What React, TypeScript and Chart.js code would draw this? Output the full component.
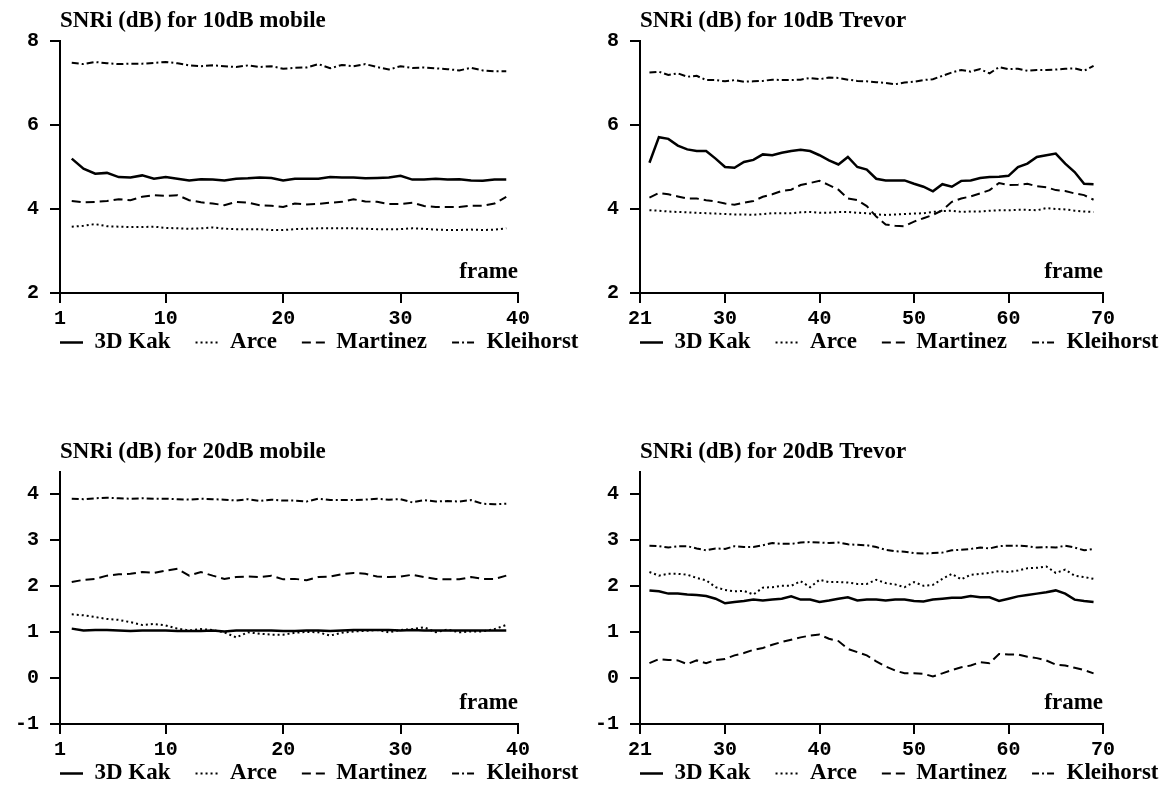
import React, { useEffect, useRef } from "react";
import { Chart, registerables } from "chart.js";

Chart.register(...registerables);

// ---------- data ----------
const seriesNames = ["3D Kak", "Arce", "Martinez", "Kleihorst"];

const mobileFrames = [2, 3, 4, 5, 6, 7, 8, 9, 10, 11, 12, 13, 14, 15, 16, 17, 18, 19, 20, 21, 22, 23, 24, 25, 26, 27, 28, 29, 30, 31, 32, 33, 34, 35, 36, 37, 38, 39];
const trevorFrames = [22, 23, 24, 25, 26, 27, 28, 29, 30, 31, 32, 33, 34, 35, 36, 37, 38, 39, 40, 41, 42, 43, 44, 45, 46, 47, 48, 49, 50, 51, 52, 53, 54, 55, 56, 57, 58, 59, 60, 61, 62, 63, 64, 65, 66, 67, 68, 69];

const mobileXTicks = [1, 10, 20, 30, 40];
const trevorXTicks = [21, 30, 40, 50, 60, 70];
const yTicks10dB = [2, 4, 6, 8];
const yTicks20dB = [-1, 0, 1, 2, 3, 4];

// 10dB mobile
const mobile10Kak = [5.2, 4.96, 4.84, 4.86, 4.76, 4.75, 4.8, 4.72, 4.76, 4.72, 4.68, 4.71, 4.7, 4.68, 4.72, 4.73, 4.75, 4.74, 4.68, 4.72, 4.72, 4.72, 4.76, 4.75, 4.75, 4.73, 4.74, 4.75, 4.79, 4.7, 4.7, 4.72, 4.7, 4.71, 4.68, 4.67, 4.7, 4.7];
const mobile10Arce = [3.58, 3.6, 3.64, 3.59, 3.58, 3.57, 3.57, 3.58, 3.55, 3.54, 3.53, 3.54, 3.56, 3.53, 3.52, 3.52, 3.52, 3.5, 3.5, 3.52, 3.53, 3.54, 3.54, 3.54, 3.54, 3.53, 3.52, 3.52, 3.52, 3.54, 3.53, 3.51, 3.5, 3.5, 3.51, 3.5, 3.51, 3.54];
const mobile10Martinez = [4.19, 4.16, 4.17, 4.19, 4.23, 4.21, 4.29, 4.33, 4.31, 4.33, 4.21, 4.16, 4.13, 4.09, 4.17, 4.15, 4.09, 4.08, 4.05, 4.13, 4.11, 4.12, 4.15, 4.17, 4.23, 4.18, 4.17, 4.12, 4.12, 4.15, 4.07, 4.05, 4.05, 4.05, 4.08, 4.08, 4.13, 4.29];
const mobile10Kleihorst = [7.48, 7.45, 7.5, 7.47, 7.45, 7.46, 7.46, 7.48, 7.5, 7.47, 7.42, 7.4, 7.42, 7.4, 7.38, 7.42, 7.38, 7.4, 7.34, 7.36, 7.37, 7.45, 7.35, 7.43, 7.4, 7.45, 7.38, 7.32, 7.4, 7.36, 7.37, 7.35, 7.33, 7.3, 7.36, 7.3, 7.28, 7.28];

// 10dB Trevor
const trevor10Kak = [5.1, 5.71, 5.67, 5.51, 5.42, 5.38, 5.38, 5.2, 5.0, 4.98, 5.12, 5.17, 5.3, 5.28, 5.34, 5.38, 5.41, 5.38, 5.28, 5.16, 5.06, 5.24, 5.0, 4.94, 4.72, 4.68, 4.68, 4.68, 4.6, 4.53, 4.42, 4.59, 4.53, 4.67, 4.68, 4.74, 4.76, 4.77, 4.79, 5.0, 5.08, 5.24, 5.28, 5.32, 5.08, 4.88, 4.6, 4.59];
const trevor10Arce = [3.97, 3.96, 3.94, 3.93, 3.92, 3.91, 3.9, 3.89, 3.88, 3.87, 3.87, 3.86, 3.88, 3.9, 3.9, 3.9, 3.92, 3.93, 3.91, 3.91, 3.93, 3.93, 3.91, 3.9, 3.87, 3.86, 3.87, 3.88, 3.89, 3.9, 3.93, 3.95, 3.96, 3.93, 3.94, 3.94, 3.96, 3.97, 3.97, 3.98, 3.98, 3.97, 4.02, 4.0, 3.99, 3.96, 3.94, 3.93];
const trevor10Martinez = [4.27, 4.38, 4.35, 4.3, 4.25, 4.25, 4.21, 4.18, 4.13, 4.1, 4.15, 4.19, 4.29, 4.35, 4.43, 4.46, 4.57, 4.62, 4.67, 4.57, 4.46, 4.25, 4.21, 4.07, 3.82, 3.63, 3.6, 3.59, 3.7, 3.78, 3.86, 3.97, 4.17, 4.25, 4.3, 4.37, 4.45, 4.62, 4.57, 4.58, 4.6, 4.54, 4.52, 4.45, 4.43, 4.37, 4.33, 4.22];
const trevor10Kleihorst = [7.25, 7.27, 7.19, 7.23, 7.15, 7.17, 7.07, 7.07, 7.04, 7.07, 7.03, 7.04, 7.05, 7.08, 7.07, 7.07, 7.08, 7.12, 7.09, 7.13, 7.12, 7.08, 7.05, 7.04, 7.02, 7.0, 6.97, 7.01, 7.03, 7.07, 7.09, 7.17, 7.25, 7.31, 7.27, 7.33, 7.23, 7.38, 7.33, 7.34, 7.29, 7.31, 7.31, 7.32, 7.34, 7.35, 7.29, 7.41];

// 20dB mobile
const mobile20Kak = [1.07, 1.03, 1.04, 1.04, 1.03, 1.02, 1.03, 1.03, 1.03, 1.02, 1.02, 1.02, 1.03, 1.01, 1.03, 1.03, 1.03, 1.03, 1.02, 1.02, 1.03, 1.03, 1.02, 1.03, 1.04, 1.04, 1.04, 1.04, 1.03, 1.04, 1.03, 1.03, 1.03, 1.03, 1.03, 1.03, 1.03, 1.03];
const mobile20Arce = [1.38, 1.36, 1.32, 1.28, 1.26, 1.21, 1.15, 1.17, 1.14, 1.07, 1.03, 1.06, 1.04, 0.99, 0.88, 0.99, 0.96, 0.94, 0.94, 0.98, 1.0, 0.99, 0.92, 0.98, 1.01, 1.02, 1.04, 0.99, 1.04, 1.06, 1.1, 0.99, 1.05, 0.99, 1.01, 1.01, 1.06, 1.15];
const mobile20Martinez = [2.08, 2.13, 2.15, 2.22, 2.25, 2.26, 2.3, 2.28, 2.33, 2.37, 2.22, 2.3, 2.22, 2.15, 2.19, 2.2, 2.19, 2.22, 2.14, 2.15, 2.12, 2.19, 2.2, 2.25, 2.28, 2.26, 2.2, 2.19, 2.2, 2.24, 2.19, 2.15, 2.14, 2.14, 2.19, 2.15, 2.15, 2.22];
const mobile20Kleihorst = [3.89, 3.88, 3.9, 3.91, 3.9, 3.89, 3.9, 3.89, 3.89, 3.88, 3.87, 3.89, 3.88, 3.87, 3.85, 3.88, 3.84, 3.87, 3.85, 3.85, 3.83, 3.89, 3.86, 3.86, 3.86, 3.87, 3.89, 3.87, 3.88, 3.81, 3.86, 3.83, 3.84, 3.83, 3.86, 3.78, 3.77, 3.78];

// 20dB Trevor
const trevor20Kak = [1.9, 1.88, 1.83, 1.83, 1.81, 1.8, 1.78, 1.72, 1.62, 1.65, 1.67, 1.7, 1.68, 1.7, 1.72, 1.77, 1.7, 1.7, 1.65, 1.68, 1.72, 1.75, 1.68, 1.7, 1.7, 1.68, 1.7, 1.7, 1.67, 1.66, 1.7, 1.72, 1.74, 1.74, 1.78, 1.75, 1.75, 1.67, 1.72, 1.77, 1.8, 1.83, 1.86, 1.9, 1.83, 1.7, 1.67, 1.65];
const trevor20Arce = [2.3, 2.22, 2.26, 2.26, 2.24, 2.17, 2.12, 1.97, 1.91, 1.88, 1.89, 1.81, 1.96, 1.97, 2.0, 2.0, 2.1, 1.97, 2.13, 2.08, 2.08, 2.07, 2.04, 2.04, 2.13, 2.06, 2.03, 1.97, 2.08, 2.0, 2.02, 2.15, 2.26, 2.14, 2.24, 2.26, 2.28, 2.32, 2.3, 2.33, 2.38, 2.39, 2.42, 2.28, 2.35, 2.22, 2.19, 2.15];
const trevor20Martinez = [0.32, 0.41, 0.39, 0.38, 0.3, 0.38, 0.32, 0.39, 0.41, 0.49, 0.54, 0.61, 0.65, 0.72, 0.78, 0.83, 0.88, 0.92, 0.94, 0.85, 0.8, 0.63, 0.56, 0.49, 0.36, 0.25, 0.16, 0.1, 0.1, 0.09, 0.03, 0.1, 0.17, 0.23, 0.27, 0.34, 0.32, 0.52, 0.51, 0.51, 0.46, 0.43, 0.38, 0.29, 0.27, 0.22, 0.17, 0.1];
const trevor20Kleihorst = [2.87, 2.86, 2.83, 2.86, 2.86, 2.81, 2.77, 2.81, 2.8, 2.86, 2.84, 2.84, 2.88, 2.93, 2.91, 2.91, 2.94, 2.95, 2.94, 2.93, 2.94, 2.9, 2.89, 2.88, 2.84, 2.78, 2.75, 2.74, 2.71, 2.7, 2.71, 2.72, 2.77, 2.78, 2.8, 2.83, 2.81, 2.86, 2.87, 2.87, 2.86, 2.83, 2.84, 2.83, 2.87, 2.83, 2.77, 2.8];

// ---------- styling ----------
const LINE_STYLES = [
  { dash: [] as number[], width: 2.5 },
  { dash: [2, 3], width: 2 },
  { dash: [9, 5], width: 2 },
  { dash: [7, 3, 2, 3], width: 2 },
];
const SERIF = "'Liberation Serif', 'Times New Roman', serif";
const MONO = "'Liberation Mono', 'Courier New', monospace";
const SERIF_SIZE = 23;
const MONO_SIZE = 20;
const LEGEND_PAD = 25;

type PanelProps = {
  left: number;
  top: number;
  width: number;
  height: number;
  rightGap: number;
  title: string;
  frames: number[];
  series: number[][];
  xMin: number;
  xMax: number;
  xTicks: number[];
  yMin: number;
  yMax: number;
  yTicks: number[];
};

function Panel(p: PanelProps) {
  const ref = useRef<HTMLCanvasElement | null>(null);
  useEffect(() => {
    if (!ref.current) return;
    const textPlugin = {
      id: "panelText",
      afterLayout(chart: any) {
        // place the legend row just under the tick labels, starting at the y axis
        const lg = chart.legend;
        const ca = chart.chartArea;
        if (!lg || !ca) return;
        const dx = ca.left - LEGEND_PAD - lg.left;
        lg.left += dx;
        lg.right += dx;
        const wantTop = ca.bottom + 49.5 - LEGEND_PAD - SERIF_SIZE / 2;
        const dy = wantTop - lg.top;
        lg.top += dy;
        lg.bottom += dy;
      },
      afterDraw(chart: any) {
        const { ctx, chartArea } = chart;
        ctx.save();
        ctx.fillStyle = "#000";
        ctx.font = `bold ${SERIF_SIZE}px ${SERIF}`;
        ctx.textBaseline = "alphabetic";
        ctx.textAlign = "left";
        ctx.fillText(p.title, chartArea.left, chartArea.top - 14);
        ctx.textAlign = "right";
        ctx.fillText("frame", chartArea.right, chartArea.bottom - 15);
        ctx.restore();
      },
    };
    const chart = new Chart(ref.current, {
      type: "line",
      data: {
        datasets: p.series.map((vals, i) => ({
          label: seriesNames[i],
          data: p.frames.map((f, j) => ({ x: f, y: vals[j] })),
          borderColor: "#000",
          backgroundColor: "#000",
          borderWidth: LINE_STYLES[i].width,
          borderDash: LINE_STYLES[i].dash,
          pointRadius: 0,
          tension: 0,
          fill: false,
        })),
      },
      options: {
        animation: false,
        responsive: false,
        maintainAspectRatio: false,
        layout: { padding: { left: 0, top: 41, right: 0, bottom: 0 } },
        scales: {
          x: {
            type: "linear",
            min: p.xMin,
            max: p.xMax,
            afterBuildTicks: (s: any) => {
              s.ticks = p.xTicks.map((v) => ({ value: v }));
            },
            afterFit: (s: any) => {
              s.height = 40;
            },
            border: { color: "#000", width: 2 },
            grid: { drawOnChartArea: false, color: "#000", lineWidth: 2, tickLength: 10 },
            ticks: {
              color: "#000",
              font: { family: MONO, size: MONO_SIZE, weight: "bold" },
              padding: 4,
              maxRotation: 0,
              autoSkip: false,
            },
          },
          y: {
            type: "linear",
            min: p.yMin,
            max: p.yMax,
            afterBuildTicks: (s: any) => {
              s.ticks = p.yTicks.map((v) => ({ value: v }));
            },
            afterFit: (s: any) => {
              s.width = 60;
            },
            border: { color: "#000", width: 2 },
            grid: { drawOnChartArea: false, color: "#000", lineWidth: 2, tickLength: 10 },
            ticks: {
              color: "#000",
              font: { family: MONO, size: MONO_SIZE, weight: "bold" },
              padding: 11,
            },
          },
          yR: {
            type: "linear",
            position: "right",
            display: true,
            afterFit: (s: any) => {
              s.width = p.rightGap;
            },
            border: { display: false },
            grid: { display: false },
            ticks: { display: false },
          },
        },
        plugins: {
          tooltip: { enabled: false },
          title: { display: false },
          legend: {
            display: true,
            position: "bottom",
            align: "start",
            labels: {
              usePointStyle: true,
              pointStyleWidth: 23,
              boxHeight: 4,
              padding: LEGEND_PAD,
              color: "#000",
              font: { family: SERIF, size: SERIF_SIZE, weight: "bold" },
              generateLabels: () =>
                seriesNames.map((name, i) => ({
                  text: name,
                  fillStyle: "#000",
                  strokeStyle: "#000",
                  fontColor: "#000",
                  lineWidth: LINE_STYLES[i].width,
                  lineDash: LINE_STYLES[i].dash,
                  lineCap: "butt",
                  pointStyle: "line",
                  hidden: false,
                  datasetIndex: i,
                })),
            },
          },
        },
      } as any,
      plugins: [textPlugin],
    });
    return () => chart.destroy();
  }, []);
  return (
    <canvas
      ref={ref}
      width={p.width}
      height={p.height}
      style={{ position: "absolute", left: p.left, top: p.top, width: p.width, height: p.height }}
    />
  );
}

export default function App() {
  return (
    <div
      style={{
        position: "absolute",
        left: 0,
        top: 0,
        width: 1169,
        height: 790,
        overflow: "hidden",
        background: "#fff",
      }}
    >
      <Panel
        left={0}
        top={0}
        width={580}
        height={391}
        rightGap={62}
        title="SNRi (dB) for 10dB mobile"
        frames={mobileFrames}
        series={[mobile10Kak, mobile10Arce, mobile10Martinez, mobile10Kleihorst]}
        xMin={1}
        xMax={40}
        xTicks={mobileXTicks}
        yMin={2}
        yMax={8}
        yTicks={yTicks10dB}
      />
      <Panel
        left={580}
        top={0}
        width={589}
        height={391}
        rightGap={66}
        title="SNRi (dB) for 10dB Trevor"
        frames={trevorFrames}
        series={[trevor10Kak, trevor10Arce, trevor10Martinez, trevor10Kleihorst]}
        xMin={21}
        xMax={70}
        xTicks={trevorXTicks}
        yMin={2}
        yMax={8}
        yTicks={yTicks10dB}
      />
      <Panel
        left={0}
        top={431}
        width={580}
        height={391}
        rightGap={62}
        title="SNRi (dB) for 20dB mobile"
        frames={mobileFrames}
        series={[mobile20Kak, mobile20Arce, mobile20Martinez, mobile20Kleihorst]}
        xMin={1}
        xMax={40}
        xTicks={mobileXTicks}
        yMin={-1}
        yMax={4.47}
        yTicks={yTicks20dB}
      />
      <Panel
        left={580}
        top={431}
        width={589}
        height={391}
        rightGap={66}
        title="SNRi (dB) for 20dB Trevor"
        frames={trevorFrames}
        series={[trevor20Kak, trevor20Arce, trevor20Martinez, trevor20Kleihorst]}
        xMin={21}
        xMax={70}
        xTicks={trevorXTicks}
        yMin={-1}
        yMax={4.47}
        yTicks={yTicks20dB}
      />
    </div>
  );
}
